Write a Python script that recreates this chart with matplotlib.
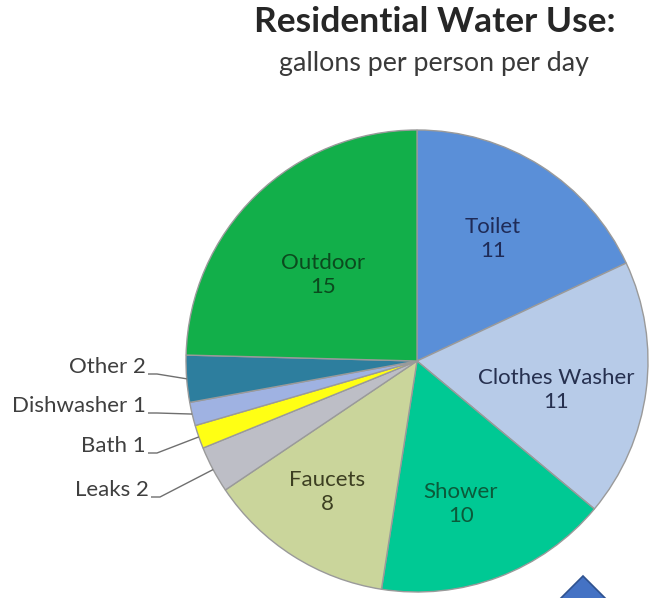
import numpy as np
import matplotlib
matplotlib.use("Agg")
import matplotlib.pyplot as plt
from matplotlib.patches import Polygon

plt.rcParams['font.family'] = ['Lato', 'DejaVu Sans']

# ---- data ----
categories = ["Toilet", "Clothes Washer", "Shower", "Faucets", "Leaks",
              "Bath", "Dishwasher", "Other", "Outdoor"]
values = [11, 11, 10, 8, 2, 1, 1, 2, 15]
colors = ["#5A8FD8", "#B7CBE8", "#00C994", "#CAD59B", "#BDBEC6",
          "#FFFF14", "#9FB2E2", "#2D7E9E", "#12AF4A"]
title = "Residential Water Use:"
subtitle = "gallons per person per day"

# ---- layout / style ----
inside_color = {"Toilet": "#1F2B57", "Clothes Washer": "#26304F", "Shower": "#0B5A3A",
                "Faucets": "#3D3F22", "Outdoor": "#0B4A1E"}
# label centre offsets in pixels from the pie centre
inside_pos = {"Toilet": (76, 122), "Clothes Washer": (139, -29), "Shower": (44, -143),
              "Faucets": (-90, -131), "Outdoor": (-94, 86)}
# right end of outside labels (pixels)
outside_pos = {"Other": (146, 367), "Dishwasher": (146, 406), "Bath": (146, 446),
               "Leaks": (149, 490)}

W, H = 653, 598
cx, cy, R = 417, 361, 231
fig = plt.figure(figsize=(W/100, H/100), dpi=100)
ax = fig.add_axes([0, 0, 1, 1])

wedges, _ = ax.pie(values, colors=colors, startangle=90, counterclock=False,
                   radius=1.0, center=(0, 0), frame=True,
                   wedgeprops=dict(edgecolor="#9A9A9A", linewidth=1.0))
ax.set_xlim(-cx/R, (W-cx)/R)
ax.set_ylim(-(H-cy)/R, cy/R)
ax.axis('off')

def px2d(x, y):
    return ((x - cx)/R, (cy - y)/R)

FS = 16
for cat, val, w in zip(categories, values, wedges):
    if cat in inside_color:
        dx, dy = inside_pos[cat]
        ax.text(dx/R, dy/R, f"{cat}\n{val}", ha='center', va='center',
                fontsize=FS, color=inside_color[cat], linespacing=1.25)
    else:
        tx, ty = outside_pos[cat]
        x, y = px2d(tx, ty)
        ax.text(x, y, f"{cat} {val}", ha='right', va='center', fontsize=FS,
                color="#3F3F3F")
        mid = np.deg2rad((w.theta1 + w.theta2)/2)
        ex, ey = 1.0*np.cos(mid), 1.0*np.sin(mid)
        bx, by = px2d(tx + 2, ty + 7)
        kx = bx + 9/R
        ax.plot([bx, kx, ex], [by, by, ey], color="#6F6F6F", lw=1.0,
                solid_capstyle='butt')

fig.text(435/W, 1-32/H, title, ha='center', va='baseline', fontsize=25.5,
         fontweight='bold', color="#262626")
fig.text(434/W, 1-71/H, subtitle, ha='center', va='baseline', fontsize=19.3,
         color="#3A3A3A")

tri = Polygon([(583/W, 1-576/H), (533/W, 1-626/H), (633/W, 1-626/H)],
              closed=True, transform=fig.transFigure, facecolor="#4472C4",
              edgecolor="#2F528F", linewidth=1.2)
fig.patches.append(tri)

fig.savefig("out.png", dpi=100)
